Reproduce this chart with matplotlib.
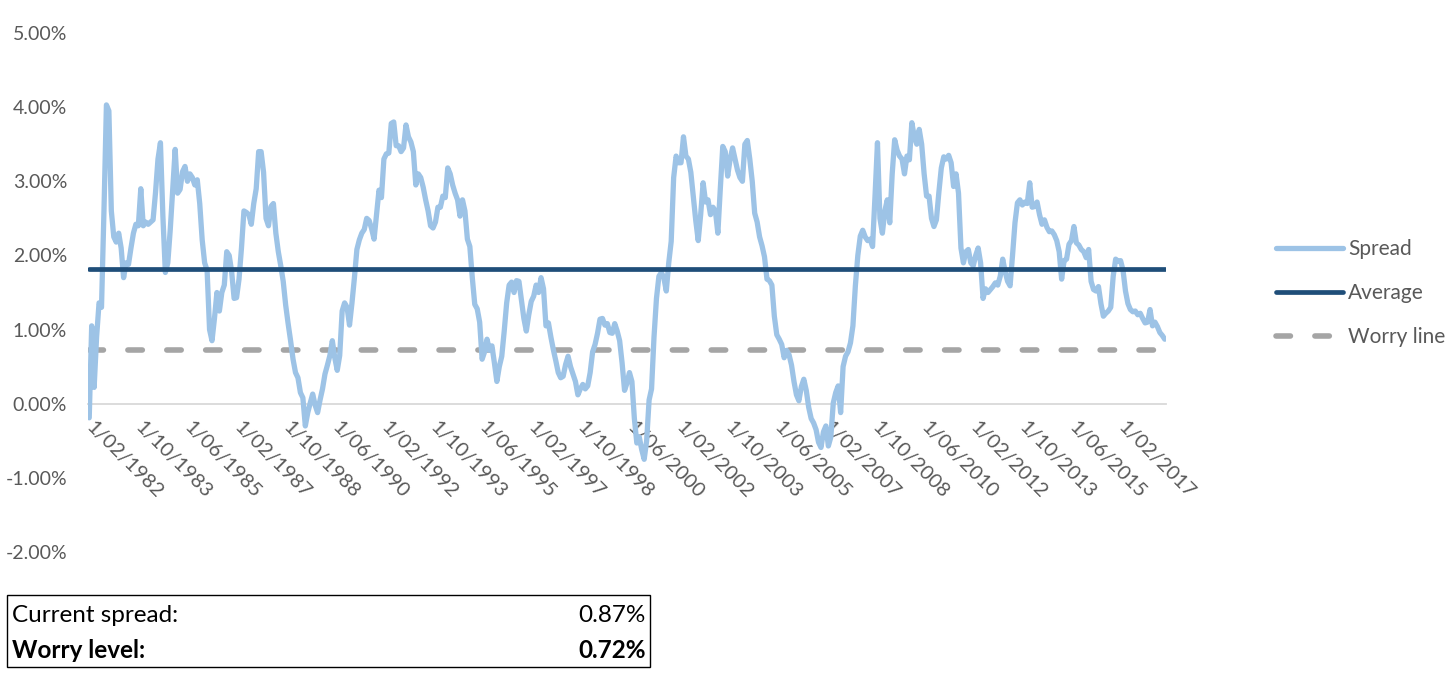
import matplotlib
matplotlib.use("Agg")
import matplotlib.pyplot as plt
from matplotlib.patches import Rectangle
import pandas as pd
import numpy as np

# ---------------- data (percent) ----------------
start_month = "1982-02-01"
spread = [
    -0.19, 1.05, 0.22, 0.9, 1.36, 1.3, 2.6, 4.03, 3.95, 2.6,
    2.25, 2.18, 2.3, 2.1, 1.7, 1.9, 1.88, 2.1, 2.3, 2.42,
    2.4, 2.9, 2.4, 2.45, 2.42, 2.45, 2.48, 2.85, 3.3, 3.52,
    2.53, 1.77, 1.9, 2.35, 2.89, 3.43, 2.84, 2.89, 3.13, 3.2,
    3.0, 3.1, 3.05, 2.95, 3.02, 2.7, 2.21, 1.9, 1.8, 1.0,
    0.85, 1.15, 1.5, 1.25, 1.5, 1.6, 2.05, 2.0, 1.78, 1.42,
    1.43, 1.68, 2.1, 2.6, 2.58, 2.55, 2.42, 2.7, 2.9, 3.4,
    3.4, 3.12, 2.5, 2.4, 2.66, 2.7, 2.3, 2.05, 1.86, 1.65,
    1.33, 1.08, 0.85, 0.6, 0.42, 0.35, 0.15, 0.08, -0.3, -0.12,
    0.01, 0.13, -0.02, -0.12, 0.05, 0.2, 0.4, 0.52, 0.65, 0.85,
    0.62, 0.45, 0.65, 1.25, 1.36, 1.3, 1.06, 1.36, 1.7, 2.08,
    2.21, 2.3, 2.35, 2.5, 2.47, 2.36, 2.22, 2.55, 2.88, 2.78,
    3.3, 3.37, 3.38, 3.78, 3.8, 3.48, 3.48, 3.4, 3.45, 3.76,
    3.6, 3.53, 3.4, 2.95, 3.1, 3.05, 2.92, 2.75, 2.6, 2.4,
    2.37, 2.45, 2.65, 2.65, 2.8, 2.78, 3.18, 3.1, 2.95, 2.84,
    2.75, 2.53, 2.75, 2.6, 2.22, 2.12, 1.7, 1.34, 1.28, 1.1,
    0.6, 0.7, 0.87, 0.72, 0.78, 0.55, 0.3, 0.5, 0.64, 0.98,
    1.36, 1.6, 1.64, 1.5, 1.66, 1.65, 1.4, 1.15, 0.98, 1.2,
    1.38, 1.45, 1.6, 1.5, 1.7, 1.55, 1.05, 1.09, 0.9, 0.73,
    0.58, 0.42, 0.35, 0.37, 0.53, 0.64, 0.5, 0.4, 0.3, 0.12,
    0.2, 0.26, 0.2, 0.24, 0.42, 0.7, 0.8, 0.95, 1.14, 1.15,
    1.06, 1.08, 0.96, 0.95, 1.08, 0.98, 0.85, 0.55, 0.18, 0.28,
    0.42, 0.3, -0.2, -0.53, -0.45, -0.62, -0.75, -0.5, 0.05, 0.2,
    0.9, 1.42, 1.72, 1.77, 1.7, 1.52, 1.9, 2.19, 3.05, 3.34,
    3.25, 3.25, 3.6, 3.34, 3.3, 3.12, 2.8, 2.47, 2.2, 2.55,
    2.98, 2.72, 2.75, 2.55, 2.65, 2.6, 2.3, 2.9, 3.47, 3.4,
    3.07, 3.3, 3.45, 3.3, 3.15, 3.05, 3.0, 3.5, 3.55, 3.3,
    3.0, 2.57, 2.45, 2.25, 2.13, 1.98, 1.68, 1.66, 1.6, 1.18,
    0.93, 0.87, 0.8, 0.62, 0.72, 0.66, 0.52, 0.3, 0.12, 0.04,
    0.23, 0.33, 0.18, -0.05, -0.2, -0.26, -0.35, -0.52, -0.59, -0.38,
    -0.3, -0.57, -0.45, 0.01, 0.15, 0.24, -0.12, 0.5, 0.64, 0.7,
    0.82, 1.05, 1.59, 2.0, 2.26, 2.34, 2.25, 2.2, 2.22, 2.12,
    2.8, 3.52, 2.5, 2.3, 2.6, 2.75, 2.44, 3.1, 3.56, 3.42,
    3.34, 3.3, 3.1, 3.34, 3.29, 3.79, 3.6, 3.5, 3.7, 3.5,
    3.1, 2.8, 2.8, 2.5, 2.39, 2.48, 2.85, 3.18, 3.33, 3.3,
    3.35, 3.25, 2.93, 3.1, 2.84, 2.1, 1.9, 2.05, 2.08, 1.9,
    1.86, 2.0, 2.1, 1.9, 1.42, 1.55, 1.5, 1.54, 1.58, 1.63,
    1.6, 1.72, 1.95, 1.78, 1.65, 1.59, 2.0, 2.44, 2.71, 2.75,
    2.68, 2.72, 2.7, 2.98, 2.65, 2.66, 2.72, 2.55, 2.42, 2.48,
    2.38, 2.32, 2.33, 2.28, 2.2, 2.05, 1.68, 1.93, 1.95, 2.15,
    2.2, 2.39, 2.17, 2.14, 2.08, 2.05, 1.97, 2.08, 1.65, 1.54,
    1.52, 1.58, 1.35, 1.18, 1.22, 1.25, 1.3, 1.72, 1.95, 1.92,
    1.93, 1.8, 1.52, 1.35, 1.27, 1.24, 1.25, 1.2, 1.22, 1.15,
    1.09, 1.1, 1.27, 1.05, 1.1, 1.04, 0.96, 0.92, 0.87,
]
average_level = 1.82
worry_level = 0.72
current_spread = 0.87
label_every = 20          # one category label every 20 months
y_ticks = [-2, -1, 0, 1, 2, 3, 4, 5]
series_names = ["Spread", "Average", "Worry line"]
box_labels = ["Current spread:", "Worry level:"]

# ---------------- figure ----------------
W, H = 1456, 681
fig = plt.figure(figsize=(W / 100, H / 100), dpi=100)
plt.rcParams['font.family'] = ['Lato', 'DejaVu Sans']

dates = pd.date_range(start_month, periods=len(spread), freq="MS")
idx = np.arange(len(spread))

ax = fig.add_axes([88 / W, 1 - 552 / H, (1166 - 88) / W, (552 - 33) / H])
ax.set_xlim(-0.5, len(spread) - 0.5)
ax.set_ylim(-2, 5)

ax.plot(idx, spread, color="#9DC3E6", lw=3.8, solid_joinstyle="round",
        solid_capstyle="round", label=series_names[0], zorder=3)
ax.plot(idx, np.full(len(spread), average_level), color="#1F4E79", lw=3.4,
        solid_capstyle="round", label=series_names[1], zorder=4)
ax.plot(idx, np.full(len(spread), worry_level), color="#A5A5A5", lw=4.0,
        dashes=(2.6, 4.4), dash_capstyle="round", label=series_names[2], zorder=2)

for s in ["top", "right", "left"]:
    ax.spines[s].set_visible(False)
ax.spines["bottom"].set_position(("data", 0))
ax.spines["bottom"].set_color("#D9D9D9")
ax.spines["bottom"].set_linewidth(1.3)
ax.spines["bottom"].set_zorder(1)

ax.set_yticks(y_ticks)
ax.set_yticklabels([f"{v:.2f}%" for v in y_ticks])
tick_pos = idx[::label_every]
ax.set_xticks(tick_pos)
ax.set_xticklabels([f"{d.day}/{d.month:02d}/{d.year}" for d in dates[::label_every]],
                   rotation=-45, ha="left", va="center", rotation_mode="anchor")
ax.tick_params(axis="both", length=0, colors="#595959")
ax.tick_params(axis="y", pad=15, labelsize=14)
ax.tick_params(axis="x", pad=15, labelsize=14.5)

leg = fig.legend(loc="center left", bbox_to_anchor=(1276 / W, 1 - 293 / H),
                 frameon=False, fontsize=15, handlelength=3.2,
                 handletextpad=0.25, labelspacing=1.15, borderpad=0, borderaxespad=0)
for t in leg.get_texts():
    t.set_color("#595959")

# info box
fig.add_artist(Rectangle((7 / W, 1 - 667 / H), 643 / W, 72 / H, transform=fig.transFigure,
                         fill=False, edgecolor="black", lw=1.0))
fig.text(12 / W, 1 - 615 / H, box_labels[0], fontsize=17.5, color="black", va="center", ha="left")
fig.text(646 / W, 1 - 615 / H, f"{current_spread:.2f}%", fontsize=17.5, color="black",
         va="center", ha="right")
fig.text(12 / W, 1 - 651 / H, box_labels[1], fontsize=17.5, color="black", va="center",
         ha="left", fontweight="bold")
fig.text(646 / W, 1 - 651 / H, f"{worry_level:.2f}%", fontsize=17.5, color="black",
         va="center", ha="right", fontweight="bold")

fig.savefig("out.png", dpi=100, facecolor="white")
